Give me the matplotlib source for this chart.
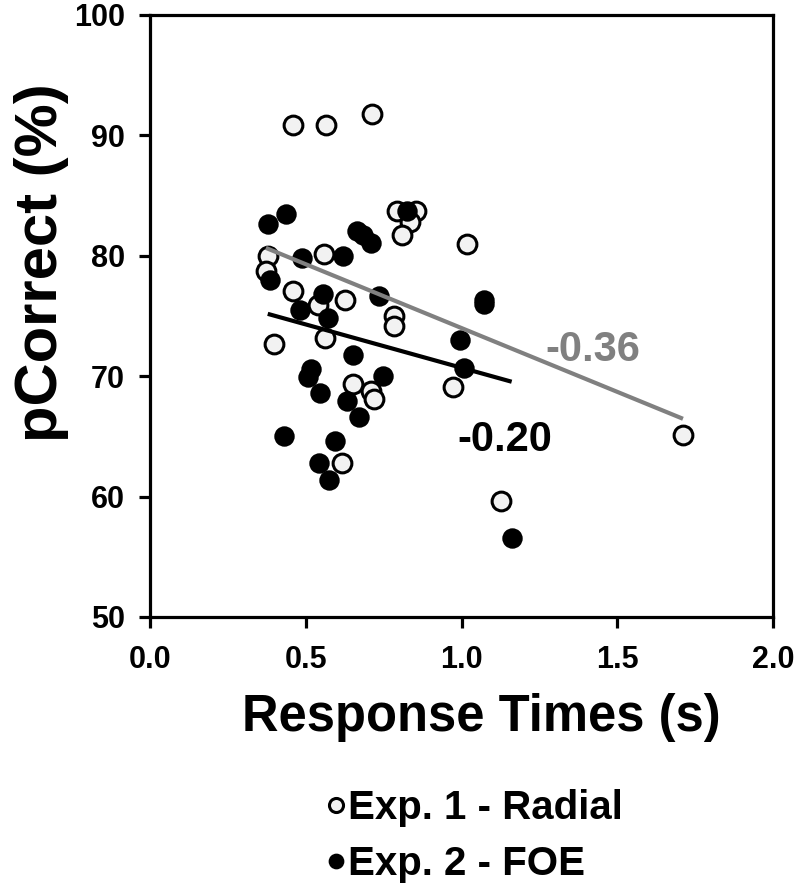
import matplotlib
matplotlib.use("Agg")
import matplotlib.pyplot as plt
import numpy as np

# ---- data ----
radial_rt = [0.460, 0.565, 0.712, 0.792, 0.854, 0.835, 0.808, 1.019, 0.380, 0.560,
             0.372, 0.460, 0.540, 0.626, 0.783, 0.783, 0.398, 0.562, 0.653, 0.709,
             0.720, 0.972, 0.615, 1.128, 1.711]
radial_pc = [90.9, 90.9, 91.8, 83.7, 83.7, 82.8, 81.7, 81.0, 80.0, 80.15,
             78.7, 77.1, 75.9, 76.3, 75.0, 74.2, 72.7, 73.2, 69.35, 68.8,
             68.1, 69.1, 62.8, 59.6, 65.1]

foe_rt = [0.824, 0.437, 0.378, 0.663, 0.684, 0.711, 0.487, 0.621, 0.385, 0.556,
          0.482, 0.736, 0.572, 1.073, 1.073, 0.995, 0.653, 0.516, 0.508, 1.008,
          0.749, 0.546, 0.633, 0.671, 0.431, 0.594, 0.543, 0.575, 1.161]
foe_pc = [83.7, 83.5, 82.6, 82.1, 81.7, 81.1, 79.8, 80.0, 78.0, 76.8,
          75.5, 76.7, 74.8, 76.3, 76.0, 73.0, 71.8, 70.6, 69.96, 70.65,
          70.0, 68.6, 67.97, 66.6, 65.0, 64.65, 62.8, 61.4, 56.6]

# linear trend lines (slope, intercept) as shown in the figure
radial_fit = [-10.6, 84.6]
foe_fit = [-7.2, 77.9]

r_labels = ["-0.36", "-0.20"]
x_ticks = [0.0, 0.5, 1.0, 1.5, 2.0]
y_ticks = [50, 60, 70, 80, 90, 100]
legend_labels = ["Exp. 1 - Radial", "Exp. 2 - FOE"]

plt.rcParams["font.family"] = ["Liberation Sans", "DejaVu Sans"]
plt.rcParams["font.weight"] = "bold"

W, H = 800, 891
fig = plt.figure(figsize=(W / 100, H / 100), dpi=100)
ax = fig.add_axes([150 / W, 1 - 617 / H, (773 - 150) / W, (617 - 15) / H])

ms = 13.5
h1, = ax.plot(radial_rt, radial_pc, "o", ms=ms, mfc="#f2f2f2", mec="black", mew=2.2, ls="none", zorder=3)
h2, = ax.plot(foe_rt, foe_pc, "o", ms=ms, mfc="black", mec="black", mew=1.2, ls="none", zorder=4)

for xs, (k, b), col in [(radial_rt, radial_fit, "#808080"), (foe_rt, foe_fit, "black")]:
    xx = np.array([min(xs), max(xs)])
    ax.plot(xx, k * xx + b, color=col, lw=3, zorder=5, solid_capstyle="butt")

ax.text(1.42, 72.2, r_labels[0], color="#808080", fontsize=30, fontweight="bold", ha="center", va="center", zorder=6)
ax.text(1.14, 64.7, r_labels[1], color="black", fontsize=30, fontweight="bold", ha="center", va="center", zorder=6)

ax.set_xlim(0, 2.0)
ax.set_ylim(50, 100)
ax.set_xticks(x_ticks)
ax.set_xticklabels([f"{v:.1f}" for v in x_ticks])
ax.set_yticks(y_ticks)
for s in ax.spines.values():
    s.set_linewidth(2.3)
    s.set_color("black")
ax.tick_params(direction="out", length=8, width=2.3, labelsize=22)
ax.tick_params(axis="x", pad=12)
ax.tick_params(axis="y", pad=10)
for lab in ax.get_xticklabels() + ax.get_yticklabels():
    lab.set_fontweight("bold")

fig.text(481 / W, 1 - 717 / H, "Response Times (s)", fontsize=36.5, fontweight="bold", ha="center", va="center")
fig.text(42 / W, 1 - 263 / H, "pCorrect (%)", fontsize=43, fontweight="bold", ha="center", va="center", rotation=90)

leg = fig.legend([h1, h2], legend_labels, loc="center", bbox_to_anchor=(474 / W, 1 - 836 / H),
                 frameon=False, fontsize=29, markerscale=0.75, handlelength=0.5, handletextpad=0.05,
                 labelspacing=0.45, borderpad=0)
for t in leg.get_texts():
    t.set_fontweight("bold")

fig.savefig("out.png", dpi=100)
